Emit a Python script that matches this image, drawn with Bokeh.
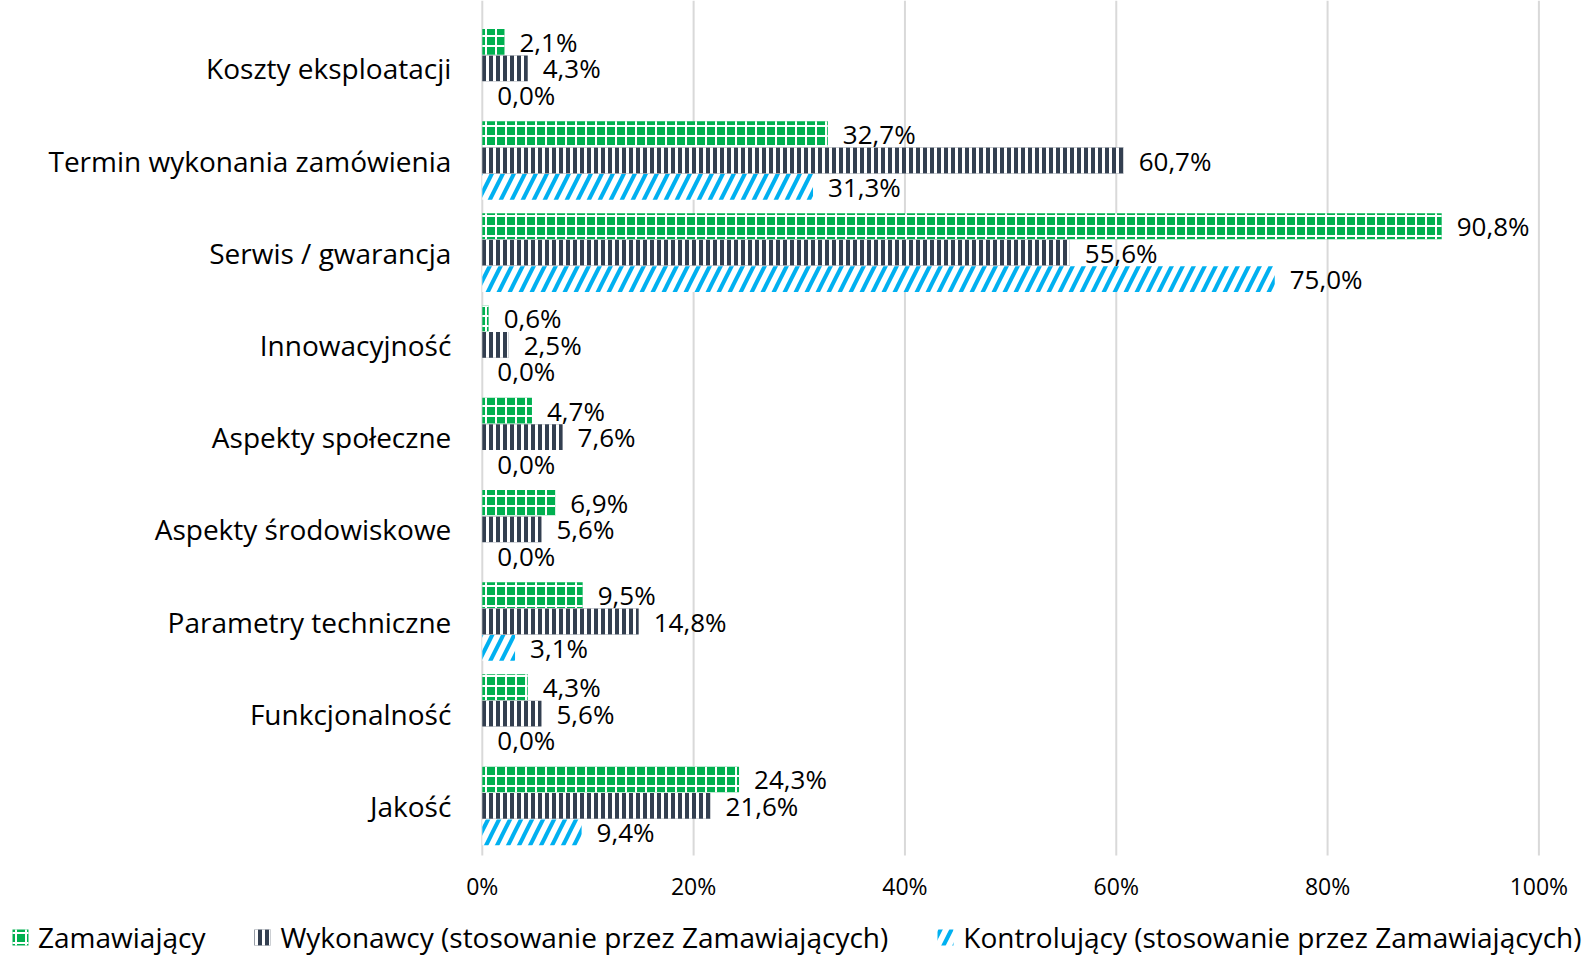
from bokeh.plotting import figure
from bokeh.models import Range1d, Legend, LegendItem, ColumnDataSource
from bokeh.core.properties import value
from bokeh.embed import file_html
from bokeh.resources import INLINE

categories = ["Koszty eksploatacji", "Termin wykonania zamówienia", "Serwis / gwarancja",
              "Innowacyjność", "Aspekty społeczne", "Aspekty środowiskowe",
              "Parametry techniczne", "Funkcjonalność", "Jakość"]
zamawiajacy = [2.1, 32.7, 90.8, 0.6, 4.7, 6.9, 9.5, 4.3, 24.3]
wykonawcy = [4.3, 60.7, 55.6, 2.5, 7.6, 5.6, 14.8, 5.6, 21.6]
kontrolujacy = [0.0, 31.3, 75.0, 0.0, 0.0, 0.0, 3.1, 0.0, 9.4]
series_names = ["Zamawiający",
                "Wykonawcy (stosowanie przez Zamawiających)",
                "Kontrolujący (stosowanie przez Zamawiających)"]
x_ticks = [0, 20, 40, 60, 80, 100]
x_tick_labels = ["0%", "20%", "40%", "60%", "80%", "100%"]

FONT = "Open Sans"
W, H = 1585, 957
X0_PX, X100_PX = 481.8, 1538.4          # pixel position of 0% and 100%
PX_PER_X = (X100_PX - X0_PX) / 100.0
ROW_PX, ROW0_PX = 92.2, 67.8             # category spacing, first category centre
FRAME_BOTTOM_PX, TICK_PX = 855, 885

x_start = -X0_PX / PX_PER_X
x_end = x_start + W / PX_PER_X
y_top = -ROW0_PX / ROW_PX
y_bottom = y_top + H / ROW_PX
grid_bottom = y_top + FRAME_BOTTOM_PX / ROW_PX
tick_y = y_top + TICK_PX / ROW_PX

p = figure(width=W, height=H, output_backend="svg", toolbar_location=None,
           x_range=Range1d(x_start, x_end), y_range=Range1d(y_bottom, y_top),
           min_border=0, x_axis_type=None, y_axis_type=None)
p.outline_line_color = None
p.background_fill_color = "white"
p.border_fill_color = "white"
p.grid.grid_line_color = None

# vertical gridlines at the tick values
p.segment(x0=x_ticks, x1=x_ticks, y0=[y_top] * len(x_ticks), y1=[grid_bottom] * len(x_ticks),
          line_color="#D9D9D9", line_width=2)
# x tick labels
p.text(x=x_ticks, y=[tick_y] * len(x_ticks), text=x_tick_labels,
       text_align="center", text_baseline="middle",
       text_font=value(FONT), text_font_size="23px", text_color="#000000")
# category labels
p.text(x=[0] * len(categories), y=list(range(len(categories))), text=categories,
       x_offset=-31, text_align="right", text_baseline="middle",
       text_font=value(FONT), text_font_size="28px", text_color="#000000")

offsets = [-0.287, 0.0, 0.287]
series = [zamawiajacy, wykonawcy, kontrolujacy]
styles = [
    dict(fill_color="#00B050", hatch_pattern="cross", hatch_color="white",
         hatch_scale=10, hatch_weight=2),
    dict(fill_color="#333F50", hatch_pattern="vertical_line", hatch_color="white",
         hatch_scale=7, hatch_weight=3),
    dict(fill_color="white", hatch_pattern="right_diagonal_line", hatch_color="#00B0F0",
         hatch_scale=22, hatch_weight=4),
]

items = []
for vals, off, st, name in zip(series, offsets, styles, series_names):
    ys = [i + off for i in range(len(categories))]
    src = ColumnDataSource(dict(y=ys, right=vals,
                                lbl=[f"{v:.1f}%".replace(".", ",") for v in vals]))
    r = p.hbar(y="y", left=0, right="right", height=0.28, source=src,
               line_color=None, **st)
    p.text(x="right", y="y", text="lbl", source=src, x_offset=15,
           text_align="left", text_baseline="middle",
           text_font=value(FONT), text_font_size="26px", text_color="#000000")
    items.append(LegendItem(label=name, renderers=[r]))

legend = Legend(items=items, orientation="horizontal", location=(10, 1),
                spacing=47, label_standoff=8, glyph_width=20, glyph_height=20,
                label_text_font=FONT, label_text_font_size="28px",
                label_text_color="#000000", border_line_color=None,
                background_fill_alpha=0, padding=0, margin=0)
p.add_layout(legend, "center")

open("out.html", "w").write(file_html(p, INLINE))
